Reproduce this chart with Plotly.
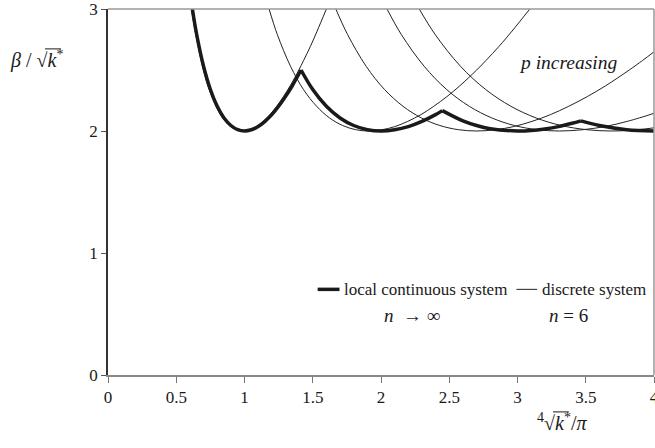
import plotly.graph_objects as go

# ---- data ----
# local continuous system (thick), segments m = 1..4
cont_x = [0.618, 0.65, 0.70, 0.75, 0.80, 0.85, 0.90, 0.95, 1.00, 1.05, 1.10, 1.15, 1.20, 1.25, 1.30, 1.35, 1.414,
          1.50, 1.60, 1.70, 1.80, 1.90, 2.00, 2.10, 2.20, 2.30, 2.40, 2.449,
          2.60, 2.70, 2.80, 3.00, 3.10, 3.20, 3.30, 3.40, 3.464,
          3.60, 3.80, 4.00]
cont_y = [3.000, 2.789, 2.531, 2.340, 2.203, 2.107, 2.045, 2.011, 2.000, 2.010, 2.036, 2.079, 2.134, 2.203, 2.282, 2.371, 2.500,
          2.340, 2.203, 2.107, 2.045, 2.011, 2.000, 2.010, 2.036, 2.079, 2.134, 2.167,
          2.083, 2.045, 2.019, 2.000, 2.004, 2.017, 2.036, 2.063, 2.083,
          2.045, 2.011, 2.000]

# discrete system n = 6, modes p = 1..5 (thin)
p1_x = [0.611, 0.643, 0.692, 0.741, 0.791, 0.840, 0.890, 0.939, 0.989, 1.038, 1.087, 1.137, 1.186, 1.236, 1.285, 1.335, 1.398, 1.433, 1.483, 1.532, 1.600]
p1_y = [3.000, 2.789, 2.531, 2.340, 2.203, 2.107, 2.045, 2.011, 2.000, 2.010, 2.036, 2.079, 2.134, 2.203, 2.282, 2.371, 2.500, 2.578, 2.694, 2.819, 3.000]

p2_x = [1.180, 1.241, 1.337, 1.432, 1.528, 1.623, 1.719, 1.814, 1.910, 2.005, 2.101, 2.196, 2.292, 2.387, 2.483, 2.578, 2.701, 2.769, 2.865, 2.960, 3.090]
p2_y = [3.000, 2.789, 2.531, 2.340, 2.203, 2.107, 2.045, 2.011, 2.000, 2.010, 2.036, 2.079, 2.134, 2.203, 2.282, 2.371, 2.500, 2.578, 2.694, 2.819, 3.000]

p3_x = [1.669, 1.756, 1.891, 2.026, 2.161, 2.296, 2.431, 2.566, 2.701, 2.836, 2.971, 3.106, 3.241, 3.376, 3.511, 3.646, 3.819, 3.916, 4.000]
p3_y = [3.000, 2.789, 2.531, 2.340, 2.203, 2.107, 2.045, 2.011, 2.000, 2.010, 2.036, 2.079, 2.134, 2.203, 2.282, 2.371, 2.500, 2.578, 2.649]

p4_x = [2.044, 2.150, 2.316, 2.481, 2.646, 2.812, 2.977, 3.143, 3.308, 3.473, 3.639, 3.804, 3.970, 4.000]
p4_y = [3.000, 2.789, 2.531, 2.340, 2.203, 2.107, 2.045, 2.011, 2.000, 2.010, 2.036, 2.079, 2.134, 2.146]

p5_x = [2.280, 2.398, 2.582, 2.767, 2.951, 3.136, 3.320, 3.505, 3.689, 3.874, 4.000]
p5_y = [3.000, 2.789, 2.531, 2.340, 2.203, 2.107, 2.045, 2.011, 2.000, 2.010, 2.026]

x_ticks = [0, 0.5, 1, 1.5, 2, 2.5, 3, 3.5, 4]
x_tick_labels = ["0", "0.5", "1", "1.5", "2", "2.5", "3", "3.5", "4"]
y_ticks = [0, 1, 2, 3]
y_tick_labels = ["0", "1", "2", "3"]

legend_names = ["local continuous system", "discrete system"]
legend_subs = ["<i>n</i>  → ∞", "<i>n</i> = 6"]

FONT = "Liberation Serif"
INK = "#1a1a1a"
THIN = "#222222"

fig = go.Figure()

for xs, ys in [(p1_x, p1_y), (p2_x, p2_y), (p3_x, p3_y), (p4_x, p4_y), (p5_x, p5_y)]:
    fig.add_trace(go.Scatter(x=xs, y=ys, mode="lines",
                             line=dict(shape="spline", smoothing=1.0, color=THIN, width=1),
                             name=legend_names[1], showlegend=False, hoverinfo="skip"))

# thick continuous curve, drawn as smooth segments between kinks
seg_bounds = [(0, 17), (16, 28), (27, 37), (36, 40)]
for a, b in seg_bounds:
    fig.add_trace(go.Scatter(x=cont_x[a:b], y=cont_y[a:b], mode="lines",
                             line=dict(shape="spline", smoothing=1.0, color=INK, width=3.5),
                             name=legend_names[0], showlegend=False, hoverinfo="skip"))

fig.update_layout(
    width=655, height=448,
    margin=dict(l=108, r=1, t=9, b=73),
    paper_bgcolor="white", plot_bgcolor="white",
    font=dict(family=FONT, size=17, color=INK),
    showlegend=False,
    xaxis=dict(range=[0, 4], tickvals=x_ticks, ticktext=x_tick_labels, ticks="outside", ticklen=6,
               tickcolor="#777", showline=True, linecolor="#888", linewidth=1.5,
               ticklabeloverflow="allow", automargin=False,
               showgrid=False, zeroline=False, tickfont=dict(size=17, family=FONT, color=INK)),
    yaxis=dict(range=[0, 3], tickvals=y_ticks, ticktext=y_tick_labels, ticks="outside", ticklen=5,
               tickcolor="#555", showline=True, linecolor="#333", linewidth=1.5,
               ticklabeloverflow="allow", automargin=False,
               showgrid=False, zeroline=False, tickfont=dict(size=17, family=FONT, color=INK)),
)

# top and right frame lines (gray)
fig.add_shape(type="line", xref="paper", yref="paper", x0=0, x1=1, y0=1, y1=1, line=dict(color="#999", width=1.5))
fig.add_shape(type="line", xref="paper", yref="paper", x0=1, x1=1, y0=0, y1=1, line=dict(color="#999", width=1.5))

# legend drawn inside the plot
LEG_Y = 0.234
fig.add_shape(type="line", xref="paper", yref="paper", x0=0.384, x1=0.424, y0=LEG_Y, y1=LEG_Y,
              line=dict(color=INK, width=3.5))
fig.add_annotation(xref="paper", yref="paper", x=0.429, y=LEG_Y, xanchor="left", yanchor="middle",
                   text=legend_names[0], showarrow=False, font=dict(size=17, family=FONT, color=INK))
fig.add_shape(type="line", xref="paper", yref="paper", x0=0.748, x1=0.786, y0=LEG_Y, y1=LEG_Y,
              line=dict(color=THIN, width=1))
fig.add_annotation(xref="paper", yref="paper", x=0.792, y=LEG_Y, xanchor="left", yanchor="middle",
                   text=legend_names[1], showarrow=False, font=dict(size=17, family=FONT, color=INK))
fig.add_annotation(x=2.23, y=0.49, text=legend_subs[0], showarrow=False,
                   font=dict(size=19, family=FONT, color=INK))
fig.add_annotation(x=3.37, y=0.49, text=legend_subs[1], showarrow=False,
                   font=dict(size=19, family=FONT, color=INK))

fig.add_annotation(x=3.37, y=2.56, text="<i>p increasing</i>", showarrow=False,
                   font=dict(size=19.5, family=FONT, color=INK))

# axis titles (radical overbars added as short lines)
fig.add_annotation(xref="paper", yref="paper", x=-0.183, y=0.863, xanchor="left", yanchor="middle",
                   text="<i>β</i> / √<i>k</i><sup>*</sup>", showarrow=False,
                   font=dict(size=20, family=FONT, color=INK))
fig.add_shape(type="line", xref="paper", yref="paper", x0=-0.1154, x1=-0.0861, y0=0.891, y1=0.891,
              line=dict(color=INK, width=1))
fig.add_annotation(xref="paper", yref="paper", x=0.8315, y=-0.128, xanchor="center", yanchor="middle",
                   text="<sup>4</sup>√<i>k</i><sup>*</sup>/<i>π</i>", showarrow=False,
                   font=dict(size=20, family=FONT, color=INK))
fig.add_shape(type="line", xref="paper", yref="paper", x0=0.815, x1=0.844, y0=-0.1008, y1=-0.1008,
              line=dict(color=INK, width=1))

fig.write_html("out.html", config={"displayModeBar": False},
               post_script="document.body.style.margin='0';")
